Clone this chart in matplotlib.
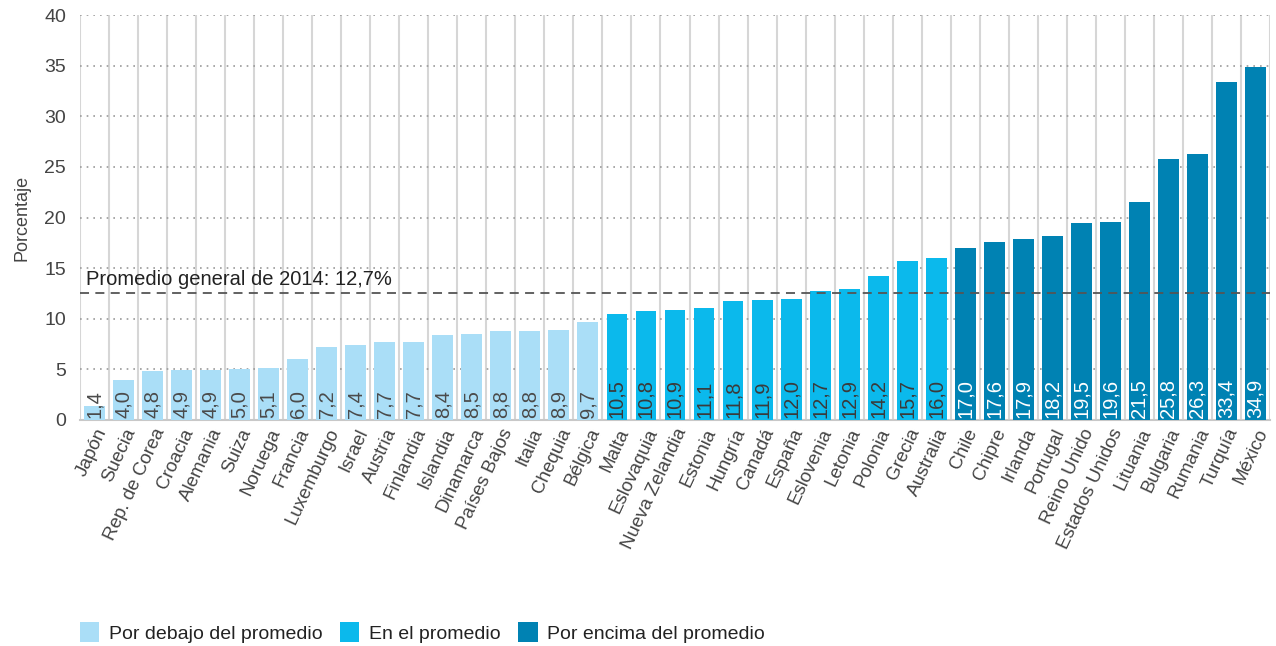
import matplotlib
matplotlib.use("Agg")
import matplotlib.pyplot as plt
from matplotlib.patches import Patch
import numpy as np

countries = ["Japón", "Suecia", "Rep. de Corea", "Croacia", "Alemania", "Suiza", "Noruega",
             "Francia", "Luxemburgo", "Israel", "Austria", "Finlandia", "Islandia", "Dinamarca",
             "Países Bajos", "Italia", "Chequia", "Bélgica", "Malta", "Eslovaquia",
             "Nueva Zelandia", "Estonia", "Hungría", "Canadá", "España", "Eslovenia", "Letonia",
             "Polonia", "Grecia", "Australia", "Chile", "Chipre", "Irlanda", "Portugal",
             "Reino Unido", "Estados Unidos", "Lituania", "Bulgaria", "Rumania", "Turquía", "México"]
values = [1.4, 4.0, 4.8, 4.9, 4.9, 5.0, 5.1, 6.0, 7.2, 7.4, 7.7, 7.7, 8.4, 8.5, 8.8, 8.8, 8.9, 9.7,
          10.5, 10.8, 10.9, 11.1, 11.8, 11.9, 12.0, 12.7, 12.9, 14.2, 15.7, 16.0,
          17.0, 17.6, 17.9, 18.2, 19.5, 19.6, 21.5, 25.8, 26.3, 33.4, 34.9]
# group: 0 below, 1 at, 2 above
groups = [0]*18 + [1]*12 + [2]*11
group_names = ["Por debajo del promedio", "En el promedio", "Por encima del promedio"]
group_colors = ["#aadef7", "#0bb9ec", "#0082b3"]
label_colors = ["#4a4a4a", "#3a3a3a", "#ffffff"]
mean_line = 12.5
mean_text = "Promedio general de 2014: 12,7%"
yticks = [0, 5, 10, 15, 20, 25, 30, 35, 40]

plt.rcParams['font.family'] = ['Liberation Sans', 'DejaVu Sans']
fig = plt.figure(figsize=(12.76, 6.46), dpi=100)
ax = fig.add_axes([80/1276, 1-420/646, 1190/1276, 405/646])

x = np.arange(len(values))
cols = [group_colors[g] for g in groups]
ax.bar(x, values, width=0.72, color=cols, zorder=3)
ax.set_xlim(-0.5, len(values)-0.5)
ax.set_ylim(0, 40)

# separators
for b in np.arange(-0.5, len(values), 1.0):
    ax.plot([b, b], [0, 40], color="#d6d6d6", lw=1.5, zorder=1, solid_capstyle='butt')
for t in yticks[1:]:
    ax.axhline(t, color="#9a9a9a", lw=1.2, ls=(0, (1, 3)), zorder=2)
ax.axhline(mean_line, color="#555555", lw=1.3, ls=(0, (5, 3.5)), zorder=4)
ax.text(-0.3, mean_line + 0.45, mean_text, fontsize=14.5, color="#222222",
        va='bottom', ha='left', zorder=5)

for xi, v, g in zip(x, values, groups):
    ax.text(xi, 0.2, f"{v:.1f}".replace(".", ","), rotation=90, ha='center', va='bottom',
            fontsize=14.5, color=label_colors[g], zorder=5)

for s in ["top", "right", "left"]:
    ax.spines[s].set_visible(False)
ax.spines["bottom"].set_color("#c8c8c8")
ax.spines["bottom"].set_linewidth(1.5)
ax.set_yticks(yticks)
ax.set_yticklabels([str(t) for t in yticks], fontsize=14, color="#444444")
ax.tick_params(axis='y', length=0, pad=10)
ax.tick_params(axis='x', length=0, pad=4)
ax.set_xticks(x)
ax.set_xticklabels(countries, rotation=65, ha='right', rotation_mode='anchor',
                   fontsize=13.5, color="#444444")
ax.set_ylabel("Porcentaje", fontsize=13, color="#444444", labelpad=10)

handles = [Patch(facecolor=c, edgecolor='none') for c in group_colors]
fig.legend(handles, group_names, loc='lower left', bbox_to_anchor=(62/1276, -0.022), ncol=3,
           frameon=False, fontsize=14, handlelength=1.0, handleheight=1.15,
           handletextpad=0.5, columnspacing=0.9, labelcolor="#222222")

fig.savefig("out.png", dpi=100)
